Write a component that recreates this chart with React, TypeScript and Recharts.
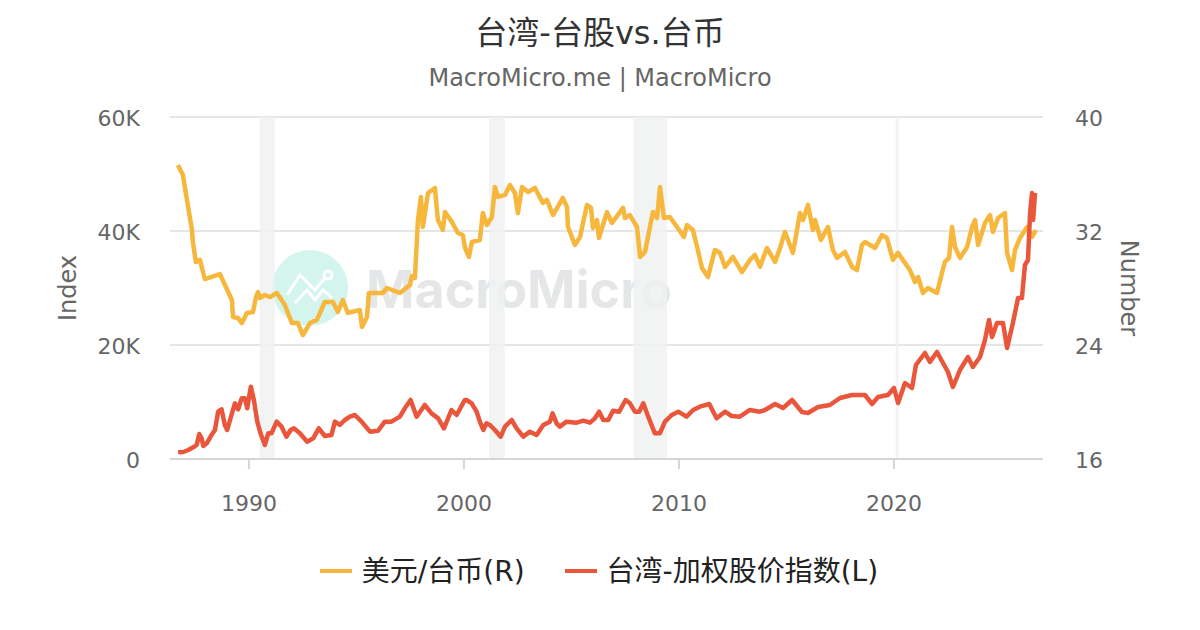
import React from 'react';
import { LineChart, Line, XAxis, YAxis, CartesianGrid, ReferenceArea, Label } from 'recharts';

const twdYears = [
  1986.7, 1986.93, 1987.12, 1987.35, 1987.4, 1987.53, 1987.72, 1987.95, 1988.65, 1989.21, 1989.26, 1989.49, 1989.67, 1989.91,
  1990.19, 1990.33, 1990.42, 1990.51, 1990.74, 1990.98, 1991.3, 1991.67, 1992.0, 1992.28, 1992.51, 1992.84, 1993.16, 1993.53,
  1993.91, 1994.14, 1994.37, 1994.6, 1995.16, 1995.26, 1995.49, 1995.58, 1996.23, 1996.42, 1997.02, 1997.49, 1997.58, 1997.72,
  1997.86, 1998.0, 1998.09, 1998.33, 1998.65, 1998.79, 1999.02, 1999.12, 1999.44, 1999.72, 1999.95, 2000.05, 2000.23, 2000.37,
  2000.74, 2000.88, 2001.07, 2001.3, 2001.44, 2001.58, 2001.91, 2002.14, 2002.37, 2002.51, 2002.7, 2002.98, 2003.3, 2003.67,
  2003.86, 2004.14, 2004.6, 2004.79, 2004.84, 2005.16, 2005.4, 2005.72, 2005.91, 2006.0, 2006.19, 2006.28, 2006.65, 2006.88,
  2007.4, 2007.49, 2007.72, 2008.05, 2008.19, 2008.42, 2008.79, 2008.98, 2009.12, 2009.3, 2009.58, 2009.91, 2010.23, 2010.37,
  2010.65, 2010.88, 2011.07, 2011.35, 2011.67, 2011.91, 2012.14, 2012.51, 2012.93, 2013.3, 2013.53, 2013.77, 2014.09, 2014.47,
  2014.7, 2014.93, 2015.3, 2015.63, 2015.77, 2016.0, 2016.23, 2016.33, 2016.6, 2016.93, 2017.16, 2017.35, 2017.72, 2018.05,
  2018.28, 2018.51, 2018.65, 2019.12, 2019.44, 2019.67, 2019.95, 2020.19, 2020.74, 2020.98, 2021.12, 2021.35, 2021.58, 2022.0,
  2022.23, 2022.37, 2022.56, 2022.7, 2022.84, 2023.07, 2023.4, 2023.63, 2023.77, 2023.91, 2024.23, 2024.47, 2024.6, 2024.84,
  2025.16, 2025.26, 2025.49, 2025.63, 2025.86, 2026.19, 2026.42, 2026.6,
];
const twdValues = [
  36.63, 35.93, 34.18, 32.07, 31.16, 29.83, 29.97, 28.63, 28.98, 27.16, 25.97, 25.9, 25.54, 26.25,
  26.32, 27.37, 27.72, 27.3, 27.51, 27.37, 27.65, 26.81, 25.54, 25.54, 24.7, 25.54, 25.76, 27.02,
  27.02, 26.32, 27.16, 26.25, 26.46, 25.26, 25.97, 27.65, 27.65, 28.0, 27.65, 28.21, 28.84, 28.7,
  32.77, 34.39, 32.28, 34.67, 35.02, 32.77, 32.07, 33.33, 32.63, 31.86, 31.72, 30.81, 30.18, 31.23,
  31.37, 33.26, 32.42, 32.98, 35.09, 34.39, 34.53, 35.23, 34.67, 33.26, 35.09, 34.74, 35.02, 33.97,
  34.18, 33.12, 34.32, 33.69, 32.28, 31.02, 31.58, 33.83, 33.62, 32.21, 32.77, 31.51, 33.33, 32.56,
  33.62, 32.91, 33.12, 32.28, 30.18, 30.53, 33.33, 32.91, 35.09, 32.91, 32.98, 32.28, 31.58, 32.42,
  32.07, 30.67, 29.4, 28.77, 30.67, 30.46, 29.47, 30.18, 29.12, 29.97, 30.32, 29.5, 30.81, 29.83,
  30.81, 31.93, 30.46, 33.26, 32.77, 33.83, 32.07, 32.77, 31.37, 32.28, 30.67, 30.11, 30.53, 29.47,
  29.26, 31.02, 31.23, 30.81, 31.72, 31.51, 29.97, 30.46, 29.26, 28.42, 28.77, 27.65, 28.0, 27.65,
  29.05, 29.83, 30.11, 32.28, 30.88, 30.11, 30.88, 32.28, 32.77, 31.02, 32.56, 33.12, 31.93, 32.91,
  33.26, 30.46, 29.26, 30.67, 31.51, 32.28, 31.58, 32.07,
];

const taiexYears = [
  1986.71, 1986.95, 1987.18, 1987.41, 1987.57, 1987.69, 1987.8, 1987.88, 1988.06, 1988.26, 1988.42, 1988.57, 1988.73, 1988.88, 1988.99,
  1989.19, 1989.35, 1989.5, 1989.66, 1989.81, 1989.92, 1990.09, 1990.23, 1990.39, 1990.54, 1990.74, 1990.9, 1991.05, 1991.29, 1991.52,
  1991.75, 1991.94, 1992.09, 1992.37, 1992.71, 1992.99, 1993.25, 1993.53, 1993.84, 1994.0, 1994.23, 1994.46, 1994.7, 1994.93, 1995.24,
  1995.63, 1996.01, 1996.32, 1996.63, 1997.02, 1997.25, 1997.52, 1997.8, 1998.18, 1998.49, 1998.8, 1999.07, 1999.42, 1999.66, 2000.04,
  2000.12, 2000.36, 2000.59, 2000.74, 2000.9, 2001.05, 2001.21, 2001.44, 2001.71, 2001.91, 2002.22, 2002.45, 2002.76, 2003.07, 2003.38,
  2003.69, 2004.0, 2004.12, 2004.31, 2004.46, 2004.77, 2005.24, 2005.55, 2005.86, 2006.09, 2006.29, 2006.48, 2006.71, 2006.94, 2007.22,
  2007.52, 2007.72, 2007.95, 2008.15, 2008.34, 2008.57, 2008.88, 2009.11, 2009.35, 2009.66, 2009.97, 2010.35, 2010.66, 2010.97, 2011.41,
  2011.75, 2012.14, 2012.45, 2012.83, 2013.3, 2013.76, 2014.0, 2014.47, 2014.84, 2015.26, 2015.72, 2016.0, 2016.47, 2017.02, 2017.49,
  2018.05, 2018.65, 2018.98, 2019.26, 2019.72, 2020.0, 2020.19, 2020.51, 2020.84, 2021.02, 2021.44, 2021.67, 2022.0, 2022.28, 2022.51,
  2022.74, 2023.07, 2023.44, 2023.67, 2024.0, 2024.23, 2024.42, 2024.56, 2024.79, 2025.07, 2025.26, 2025.53, 2025.77, 2025.95, 2026.09,
  2026.23, 2026.33, 2026.42, 2026.47, 2026.56,
];
const taiexValues = [
  1170, 1228, 1579, 2047, 2456, 4386, 3626, 2281, 2865, 4210, 5088, 8304, 8713, 5965, 5088,
  7719, 9766, 8713, 10643, 10643, 8889, 12690, 10351, 6550, 4503, 2456, 4503, 4503, 6550, 5672,
  3918, 5088, 5380, 4503, 3041, 3626, 5380, 4035, 4210, 6550, 5965, 6842, 7427, 7719, 6550,
  4795, 4971, 6550, 6550, 7427, 8889, 10351, 7427, 9474, 8012, 7134, 5380, 8596, 7719, 10351,
  10351, 9766, 8304, 6550, 5088, 6258, 5965, 5088, 3918, 5673, 6842, 5380, 3918, 4796, 4211,
  5965, 6550, 8012, 6258, 5673, 6550, 6375, 6725, 6375, 7135, 8304, 6842, 6842, 8480, 8304,
  10351, 9766, 8304, 8304, 9766, 7427, 4503, 4503, 6550, 7720, 8304, 7427, 8597, 9182, 9649,
  7135, 8304, 7544, 7427, 8597, 8304, 8597, 9649, 8947, 10351, 8246, 8070, 9123, 9474, 10702,
  11228, 11228, 9649, 10877, 11228, 12456, 9825, 13333, 12456, 16491, 18596, 17017, 18772, 16842, 15263,
  12632, 15614, 17895, 16140, 17895, 20877, 24386, 21404, 23860, 23860, 19474, 23860, 28246, 28246, 34035,
  34912, 43158, 46667, 41930, 46667,
];

const recessions = [
  [1990.5, 1991.2],
  [2001.17, 2001.9],
  [2007.88, 2009.45],
  [2020.08, 2020.22],
];
const leftTicks = [0, 20000, 40000, 60000];
const rightTicks = [16, 24, 32, 40];
const yearTicks = [1990, 2000, 2010, 2020];

const twdData = twdYears.map((year, i) => ({ year, twd: twdValues[i] }));
const taiexData = taiexYears.map((year, i) => ({ year, taiex: taiexValues[i] }));

const FONT = '"DejaVu Sans", "Noto Sans CJK SC", sans-serif';
const YELLOW = '#f6b73c';
const RED = '#e9563b';

const formatK = (v: number) => (v === 0 ? '0' : `${v / 1000}K`);

function ChartLegend() {
  const items = [
    { label: '美元/台币(R)', color: YELLOW },
    { label: '台湾-加权股价指数(L)', color: RED },
  ];
  return (
    <div style={{ display: 'flex', justifyContent: 'center', fontFamily: FONT, fontSize: 28, color: '#222', gap: 40 }}>
      {items.map((item) => (
        <div key={item.label} style={{ display: 'flex', alignItems: 'center' }}>
          <span style={{ width: 32, height: 4, background: item.color, marginRight: 10, marginTop: 3 }} />
          {item.label}
        </div>
      ))}
    </div>
  );
}

export default function App() {
  return (
    <div style={{ position: 'absolute', left: 0, top: 0, width: 1200, height: 630, background: '#fff', overflow: 'hidden' }}>
      <div style={{ position: 'absolute', top: 7, width: 1200, textAlign: 'center', fontFamily: FONT, fontSize: 32, color: '#333' }}>
        台湾-台股vs.台币
      </div>
      <div style={{ position: 'absolute', top: 64, width: 1200, textAlign: 'center', fontFamily: FONT, fontSize: 24, color: '#666' }}>
        MacroMicro.me | MacroMicro
      </div>
      <svg width={1200} height={630} style={{ position: 'absolute', left: 0, top: 0 }}>
        <circle cx={310} cy={288} r={38} fill="#d3f5ee" />
        <polyline points="287,295 300,275 315,290 325,278" fill="none" stroke="#fff" strokeWidth={3} />
        <polyline points="295,303 307,290 315,300 323,290 332,298" fill="none" stroke="#fff" strokeWidth={3} />
        <circle cx={328} cy={275} r={4} fill="none" stroke="#fff" strokeWidth={3} />
        <text x={366} y={308} fontFamily="Inter, sans-serif" fontSize={52} fontWeight={700} fill="#e5e6e8" textLength={306}>
          MacroMicro
        </text>
      </svg>
      <div style={{ position: 'absolute', left: 0, top: 0 }}>
        <LineChart width={1200} height={630} margin={{ top: 117, right: 0, bottom: 0, left: 0 }}>
          <CartesianGrid horizontal vertical={false} stroke="#e6e6e6" strokeWidth={2} yAxisId="left" />
          {recessions.map(([x1, x2]) => (
            <ReferenceArea key={x1} x1={x1} x2={x2} yAxisId="left" fill="#eff1f1" fillOpacity={0.8} stroke="none" />
          ))}
          <XAxis
            dataKey="year"
            type="number"
            domain={[1986.33, 2026.93]}
            ticks={yearTicks}
            height={171}
            tickSize={10}
            tickMargin={26}
            allowDuplicatedCategory={false}
            stroke="#d6d6d6"
            strokeWidth={2}
            tick={{ fontSize: 22, fill: '#666', fontFamily: FONT, stroke: 'none' }}
          />
          <YAxis
            yAxisId="left"
            width={170}
            domain={[0, 60000]}
            ticks={leftTicks}
            tickFormatter={formatK}
            axisLine={false}
            tickLine={false}
            tickMargin={30}
            tickSize={0}
            tick={{ fontSize: 22, fill: '#666', fontFamily: FONT, dy: 1 }}
          >
            <Label value="Index" angle={-90} position="insideLeft" offset={67} style={{ fontSize: 24, fill: '#666', fontFamily: FONT, textAnchor: 'middle' }} />
          </YAxis>
          <YAxis
            yAxisId="right"
            orientation="right"
            width={157}
            domain={[16, 40]}
            ticks={rightTicks}
            axisLine={false}
            tickLine={false}
            tickMargin={32}
            tickSize={0}
            tick={{ fontSize: 22, fill: '#666', fontFamily: FONT, dy: 1 }}
          >
            <Label value="Number" angle={90} position="insideRight" offset={70} style={{ fontSize: 24, fill: '#666', fontFamily: FONT, textAnchor: 'middle' }} />
          </YAxis>
          <Line
            data={twdData}
            yAxisId="right"
            dataKey="twd"
            stroke={YELLOW}
            strokeWidth={4.5}
            strokeLinejoin="round"
            dot={false}
            isAnimationActive={false}
          />
          <Line
            data={taiexData}
            yAxisId="left"
            dataKey="taiex"
            stroke={RED}
            strokeWidth={4.5}
            strokeLinejoin="round"
            dot={false}
            isAnimationActive={false}
          />
        </LineChart>
      </div>
      <div style={{ position: 'absolute', top: 549, left: 0, width: 1198 }}>
        <ChartLegend />
      </div>
    </div>
  );
}
